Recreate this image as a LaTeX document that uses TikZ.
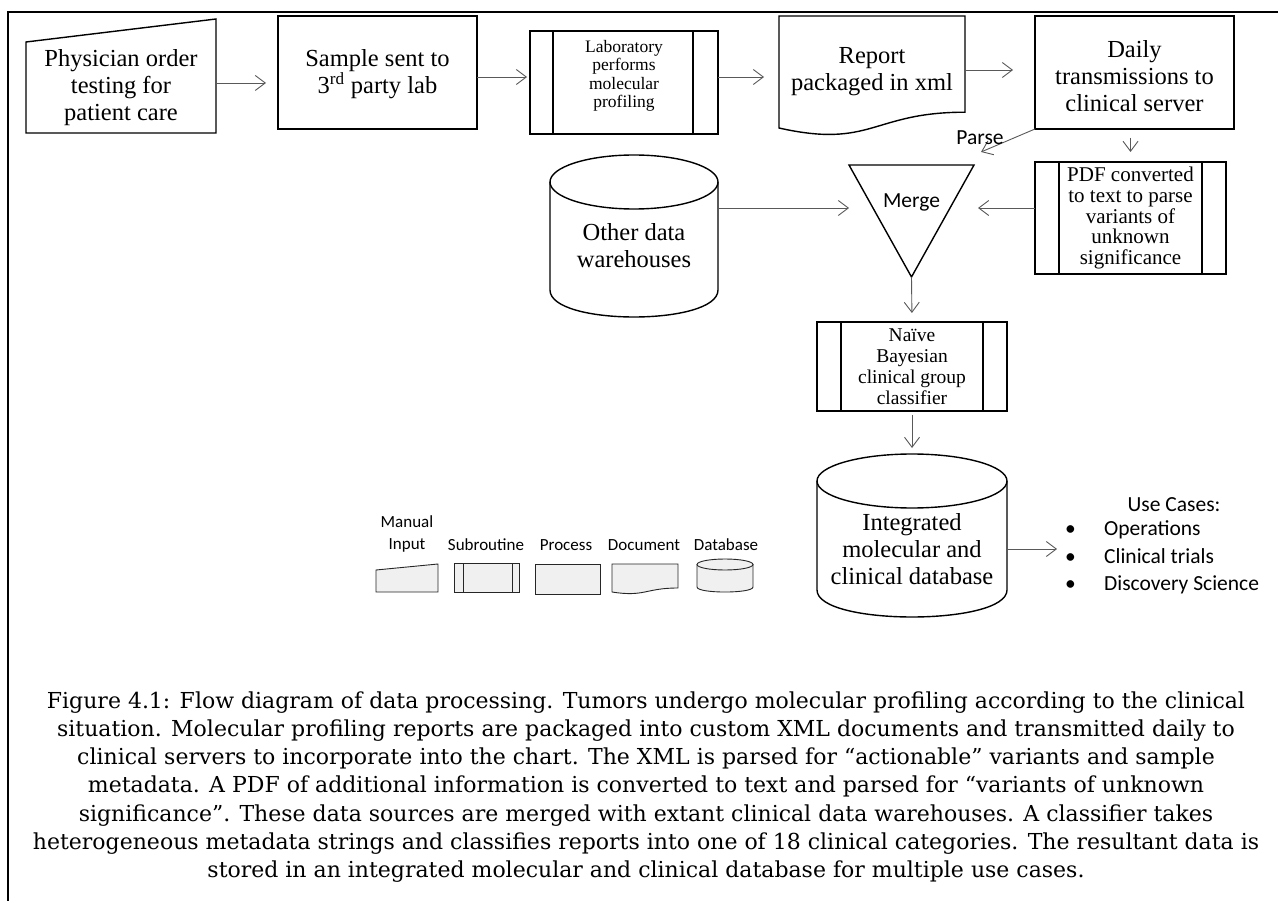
\documentclass[tikz,border=0pt]{standalone}
\usepackage{fontspec}
\setmainfont{Liberation Serif}
\newfontfamily\calibrifont{Carlito}
\newfontfamily\capserif{DejaVu Serif}
\usetikzlibrary{arrows.meta}

% font sizes (1pt = 1px of the final picture)
\newcommand\flowbig{\fontsize{24.5}{27}\selectfont}
\newcommand\flowsmall{\fontsize{17.5}{18.5}\selectfont}
\newcommand\flowmid{\fontsize{21}{20.7}\selectfont}
\newcommand\flownaive{\fontsize{19.5}{21}\selectfont}
\newcommand\sansmid{\calibrifont\fontsize{21.5}{27.5}\selectfont}
\newcommand\sanslegend{\calibrifont\fontsize{17}{22}\selectfont}
\newcommand\captiontxt{\capserif\fontsize{22}{28.3}\selectfont}

\begin{document}
\begin{tikzpicture}[x=1pt,y=-1pt,
  outline/.style={draw=black, line width=1.4pt},
  shapebox/.style={inner sep=0pt, outer sep=0pt},
  boxtext/.style={inner sep=0pt, align=center, font=\flowbig},
  arr/.style={draw=black!65, line width=0.9pt, -{Straight Barb[length=10pt,width=15pt]}},
  legshape/.style={draw=black!85, line width=0.9pt, fill=black!6},
  legtext/.style={font=\sanslegend, align=center, inner sep=0pt},
]
\useasboundingbox (0,0) rectangle (1278,901);
\fill[white] (0,0) rectangle (1278,901);

% frame
\draw[line width=1.8pt] (1278,12) -- (8,12) -- (8,901);

% ---------- top row ----------
\node[shapebox, minimum width=190pt, minimum height=114pt] (order) at (121,76) {};
\draw[outline] ([yshift=-23pt]order.north west) -- (order.north east) -- (order.south east) -- (order.south west) -- cycle;
\node[boxtext] (ordertext) at ([yshift=-12pt]order.center) {Physician order\\testing for\\patient care};

\node[shapebox, outline, minimum width=199pt, minimum height=113pt] (sample) at (377.5,72.5) {};
\node[boxtext] (sampletext) at ([yshift=-2pt]sample.center) {Sample sent to\\3\textsuperscript{rd} party lab};

\node[shapebox, outline, minimum width=188pt, minimum height=103pt] (lab) at (624,82.5) {};
\draw[outline] ([xshift=23pt]lab.north west) -- ([xshift=23pt]lab.south west)
               ([xshift=-25pt]lab.north east) -- ([xshift=-25pt]lab.south east);
\node[inner sep=0pt, align=center, font=\flowsmall] (labtext) at ([yshift=6.5pt]lab.center) {Laboratory\\performs\\molecular\\profiling};

\node[shapebox, boxtext, minimum width=186pt, minimum height=112pt] (report) at (872,72) {Report\\packaged in xml};
\draw[outline] (report.north west) -- (report.north east) -- ([yshift=15.8pt]report.south east)
  .. controls ([yshift=15.8pt]report.south) and ([yshift=-20.9pt]report.south) .. (report.south west) -- cycle;

\node[shapebox, outline, minimum width=199pt, minimum height=113pt] (daily) at (1134.5,72.5) {};
\node[boxtext] (dailytext) at ([yshift=-4pt]daily.center) {Daily\\transmissions to\\clinical server};

\draw[arr, shorten >=12pt] ([yshift=-7pt]order.east) -- ([yshift=-7pt]order.east -| sample.west);
\draw[arr, shorten >=3pt] ([yshift=-4.5pt]sample.east) -- ([yshift=-4.5pt]sample.east -| lab.west);
\draw[arr, shorten >=15pt] ([yshift=5.5pt]lab.east) -- ([yshift=5.5pt]lab.east -| report.west);
\draw[arr, shorten >=22pt] ([yshift=2pt]report.east) -- ([yshift=2pt]report.east -| daily.west);

% ---------- merge stage ----------
\node[shapebox, minimum width=125pt, minimum height=112pt] (merge) at (911.5,221) {};
\draw[outline] (merge.north west) -- (merge.north east) -- (merge.south) -- cycle;
\node[inner sep=0pt, font=\sansmid] (mergetext) at ([yshift=19pt]merge.center) {Merge};

\coordinate (parsetip) at (981,152);
\draw[arr] (daily.south west) -- (parsetip);
\node[inner sep=0pt, font=\sansmid] (parse) at (980,138) {Parse};

\node[shapebox, outline, minimum width=191pt, minimum height=112pt, align=center, font=\flowmid] (pdf) at (1130.5,218) {PDF converted\\to text to parse\\variants of\\unknown\\significance};
\draw[outline] ([xshift=24pt]pdf.north west) -- ([xshift=24pt]pdf.south west)
               ([xshift=-24pt]pdf.north east) -- ([xshift=-24pt]pdf.south east);
\draw[arr, shorten <=9pt, shorten >=10pt] (pdf.north |- daily.south) -- (pdf.north);

% other data warehouses (cylinder)
\node[shapebox, minimum width=168pt, minimum height=162pt] (other) at (634,236) {};
\draw[outline] ([yshift=-27pt]other.north) ellipse [x radius=84, y radius=27];
\draw[outline] ([yshift=-27pt]other.north west) -- ([yshift=27pt]other.south west)
  .. controls ([yshift=-9pt]other.south west) and ([yshift=-9pt]other.south east) .. ([yshift=27pt]other.south east)
  -- ([yshift=-27pt]other.north east);
\node[boxtext] (othertext) at ([yshift=-10pt]other.center) {Other data\\warehouses};

\draw[arr] ([yshift=28pt]other.east) -- ([yshift=28pt]other.east -| merge.west);
\draw[arr, shorten >=4pt] ([yshift=10pt]pdf.west) -- ([yshift=10pt]pdf.west -| merge.east);

% ---------- classifier ----------
\node[shapebox, outline, minimum width=190pt, minimum height=89pt, align=center, font=\flownaive] (naive) at (912,366.5) {Naïve\\Bayesian\\clinical group\\classifier};
\draw[outline] ([xshift=24pt]naive.north west) -- ([xshift=24pt]naive.south west)
               ([xshift=-24pt]naive.north east) -- ([xshift=-24pt]naive.south east);
\draw[arr, shorten >=9pt] (merge.south) -- (naive.north);

% ---------- integrated database ----------
\node[shapebox, minimum width=190pt, minimum height=163pt] (db) at (912,535.5) {};
\draw[outline] ([yshift=-27pt]db.north) ellipse [x radius=95, y radius=27];
\draw[outline] ([yshift=-27pt]db.north west) -- ([yshift=27pt]db.south west)
  .. controls ([yshift=-9pt]db.south west) and ([yshift=-9pt]db.south east) .. ([yshift=27pt]db.south east)
  -- ([yshift=-27pt]db.north east);
\node[boxtext] (dbtext) at ([yshift=-13.5pt]db.center) {Integrated\\molecular and\\clinical database};
\draw[arr, shorten <=4pt, shorten >=6pt] (naive.south) -- (db.north);

% use cases
\node[inner sep=0pt, font=\sansmid] (usetitle) at (1174,505) {Use Cases:};
\node[inner sep=0pt, font=\sansmid, anchor=west] (uselist) at (1065,557.5)
  {\begin{tabular}{@{}p{39pt}@{}l@{}}•&Operations\\•&Clinical trials\\•&Discovery Science\end{tabular}};
\draw[arr, shorten >=8pt] ([yshift=-13.5pt]db.east) -- ([yshift=-13.5pt]db.east -| uselist.west);

% ---------- legend ----------
\node[legtext] (lgmanual) at (407,534) {Manual\\Input};
\node[legtext] (lgsub) at (486,545) {Subroutine};
\node[legtext] (lgproc) at (566,545) {Process};
\node[legtext] (lgdoc) at (644,545) {Document};
\node[legtext] (lgdb) at (726,545) {Database};

\node[shapebox, minimum width=62pt, minimum height=28pt] (lmi) at (407,578) {};
\draw[legshape] ([yshift=-6pt]lmi.north west) -- (lmi.north east) -- (lmi.south east) -- (lmi.south west) -- cycle;

\node[shapebox, legshape, minimum width=65pt, minimum height=29pt] (lsub) at (486.5,577.5) {};
\draw[draw=black!85, line width=0.9pt] ([xshift=9pt]lsub.north west) -- ([xshift=9pt]lsub.south west)
  ([xshift=-7pt]lsub.north east) -- ([xshift=-7pt]lsub.south east);

\node[shapebox, legshape, minimum width=65pt, minimum height=30pt] (lproc) at (567.5,579) {};

\node[shapebox, minimum width=66pt, minimum height=28pt] (ldoc) at (645,578) {};
\draw[legshape] (ldoc.north west) -- (ldoc.north east) -- ([yshift=4pt]ldoc.south east)
  .. controls ([yshift=4pt]ldoc.south) and ([yshift=-5.2pt]ldoc.south) .. (ldoc.south west) -- cycle;

\node[shapebox, minimum width=56pt, minimum height=33pt] (ldb) at (725,575.5) {};
\draw[legshape] ([yshift=-5.5pt]ldb.north west) -- ([yshift=5pt]ldb.south west)
  .. controls ([yshift=-1.7pt]ldb.south west) and ([yshift=-1.7pt]ldb.south east) .. ([yshift=5pt]ldb.south east)
  -- ([yshift=-5.5pt]ldb.north east) -- cycle;
\draw[legshape] ([yshift=-5.5pt]ldb.north) ellipse [x radius=28, y radius=5.5];

% ---------- caption ----------
\node[inner sep=0pt, align=center, font=\captiontxt] (caption) at (646,787) {%
Figure 4.1: Flow diagram of data processing. Tumors undergo molecular profiling according to the clinical\\
situation. Molecular profiling reports are packaged into custom XML documents and transmitted daily to\\
clinical servers to incorporate into the chart. The XML is parsed for “actionable” variants and sample\\
metadata. A PDF of additional information is converted to text and parsed for “variants of unknown\\
significance”. These data sources are merged with extant clinical data warehouses. A classifier takes\\
heterogeneous metadata strings and classifies reports into one of 18 clinical categories. The resultant data is\\
stored in an integrated molecular and clinical database for multiple use cases.};
\end{tikzpicture}
\end{document}
